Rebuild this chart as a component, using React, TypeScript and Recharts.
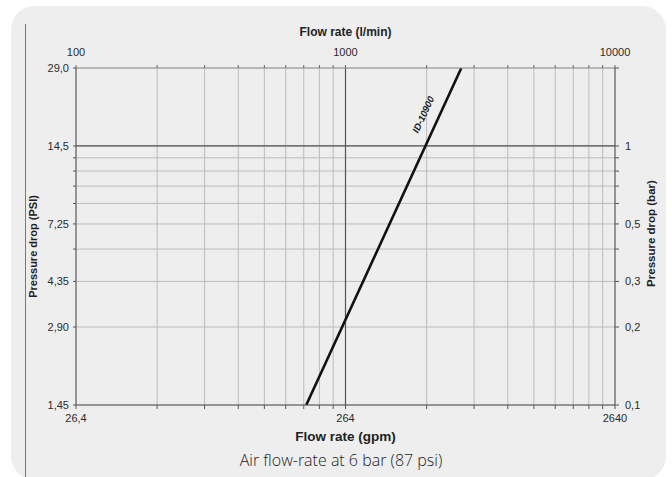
import React from "react";
import {
  CartesianGrid,
  Line,
  LineChart,
  ReferenceLine,
  XAxis,
  YAxis,
} from "recharts";

const FONT = '"Liberation Sans", Arial, sans-serif';

// l/min grid positions (log); top axis labels in l/min, bottom in gpm
const lpmTicks = [100, 200, 300, 400, 500, 600, 700, 800, 900, 1000, 2000, 3000, 4000, 5000, 6000, 7000, 8000, 9000, 10000];
const lpmLabels = ["100", "", "", "", "", "", "", "", "", "1000", "", "", "", "", "", "", "", "", "10000"];
const gpmLabels = ["26,4", "", "", "", "", "", "", "", "", "264", "", "", "", "", "", "", "", "", "2640"];

// left axis, PSI (log)
const psiTicks = [1.45, 2.9, 4.35, 5.8, 7.25, 8.7, 10.15, 11.6, 13.05, 14.5, 29];
const psiLabels = ["1,45", "2,90", "4,35", "", "7,25", "", "", "", "", "14,5", "29,0"];

// right axis, bar (log)
const barTicks = [0.1, 0.2, 0.3, 0.4, 0.5, 0.6, 0.7, 0.8, 0.9, 1, 2];
const barLabels = ["0,1", "0,2", "0,3", "", "0,5", "", "", "", "", "1", ""];

// ID-10900 curve
const seriesName = "ID-10900";
const flowLpm = [715, 2690];
const dropPsi = [1.45, 29.0];

const data = flowLpm.map((lpm, i) => ({ lpm, psi: dropPsi[i] }));

const TICK_FILL = "#2b2b2b";
const tickStyle = { fill: TICK_FILL, fontSize: 11, fontFamily: FONT };

const fmt = (ticks: number[], labels: string[]) => (v: number) => {
  const i = ticks.indexOf(v);
  return i >= 0 ? labels[i] : "";
};

// x tick labels drawn by hand so the colour stays put
function xTick(labels: string[], dy: number) {
  return (props: any) => {
    const i = lpmTicks.indexOf(props.payload.value);
    const text = i >= 0 ? labels[i] : "";
    if (!text) return <g />;
    return (
      <text x={props.x} y={props.y + dy} textAnchor="middle" fill={TICK_FILL} fontSize={11} fontFamily={FONT}>
        {text}
      </text>
    );
  };
}

function title(text: string, dx: number, dy: number, angle = 0, size = 12) {
  return (props: any) => {
    const vb = props.viewBox || { x: 0, y: 0, width: 0, height: 0 };
    const x = vb.x + (angle === 0 ? vb.width / 2 : dx);
    const y = vb.y + (angle === 0 ? dy : vb.height / 2 + dy);
    return (
      <text
        x={x}
        y={y}
        textAnchor="middle"
        dominantBaseline="central"
        transform={angle ? `rotate(${angle}, ${x}, ${y})` : undefined}
        fontFamily={FONT}
        fontWeight="bold"
        fontSize={size}
        fill="#222"
      >
        {text}
      </text>
    );
  };
}

function seriesLabel(props: any) {
  const { x, y, index } = props;
  if (index !== data.length - 1) return null;
  const cx = x - 35;
  const cy = y + 48;
  return (
    <text
      x={cx}
      y={cy}
      textAnchor="middle"
      transform={`rotate(-65, ${cx}, ${cy})`}
      fontFamily={FONT}
      fontWeight="bold"
      fontStyle="italic"
      fontSize={9.5}
      fill="#222"
    >
      {seriesName}
    </text>
  );
}

export default function App() {
  return (
    <div style={{ position: "absolute", left: 0, top: 0, width: 672, height: 477, background: "#fff", overflow: "hidden" }}>
      <div
        style={{
          position: "absolute",
          left: 11,
          top: 6,
          width: 655,
          height: 474,
          borderRadius: 24,
          background: "#eeeeef",
        }}
      />
      <div style={{ position: "absolute", left: 25, top: 24, width: 1, height: 460, background: "#777" }} />
      <div style={{ position: "absolute", left: 0, top: 0 }}>
        <LineChart width={672} height={477} data={data} margin={{ top: 28, right: 12, bottom: 32, left: 20 }}>
          <CartesianGrid xAxisId="lpm" yAxisId="bar" stroke="#bcbcbc" strokeWidth={1} />
          <XAxis
            xAxisId="lpm"
            orientation="top"
            dataKey="lpm"
            type="number"
            scale="log"
            domain={[100, 10000]}
            allowDataOverflow
            ticks={lpmTicks}
            interval={0}
            tick={xTick(lpmLabels, -1)}
            tickSize={3}
            tickMargin={8}
            stroke="#666"
            axisLine={{ stroke: "#999" }}
            height={40}
            label={title("Flow rate (l/min)", 0, 4, 0, 12)}
          />
          <XAxis
            xAxisId="lpmBottom"
            orientation="bottom"
            dataKey="lpm"
            type="number"
            scale="log"
            domain={[100, 10000]}
            allowDataOverflow
            ticks={lpmTicks}
            interval={0}
            tick={xTick(gpmLabels, 9)}
            tickSize={4}
            tickMargin={4}
            stroke="#555"
            height={40}
            label={title("Flow rate (gpm)", 0, 31, 0, 13.5)}
          />
          <YAxis
            yAxisId="psi"
            orientation="left"
            type="number"
            scale="log"
            domain={[1.45, 29]}
            allowDataOverflow
            ticks={psiTicks}
            interval={0}
            tickFormatter={fmt(psiTicks, psiLabels)}
            tick={tickStyle}
            tickSize={3}
            tickMargin={4}
            stroke="#555"
            width={56}
            label={title("Pressure drop (PSI)", 13, 10, -90, 11)}
          />
          <YAxis
            yAxisId="bar"
            orientation="right"
            type="number"
            scale="log"
            domain={[0.1, 2]}
            allowDataOverflow
            ticks={barTicks}
            interval={0}
            tickFormatter={fmt(barTicks, barLabels)}
            tick={tickStyle}
            tickSize={4}
            tickMargin={6}
            stroke="#555"
            width={45}
            label={title("Pressure drop (bar)", 36, -3, -90, 11.5)}
          />
          <ReferenceLine xAxisId="lpm" yAxisId="psi" x={1000} stroke="#555" strokeWidth={1.2} />
          <ReferenceLine xAxisId="lpm" yAxisId="psi" y={14.5} stroke="#555" strokeWidth={1.2} />
          <Line
            xAxisId="lpm"
            yAxisId="psi"
            dataKey="psi"
            name={seriesName}
            stroke="#111"
            strokeWidth={2.6}
            dot={false}
            label={seriesLabel}
            isAnimationActive={false}
          />
        </LineChart>
      </div>
      <div
        style={{
          position: "absolute",
          left: 0,
          top: 449,
          width: 682,
          textAlign: "center",
          fontFamily: '"Open Sans", sans-serif',
          fontWeight: 300,
          fontSize: 16,
          color: "#222",
          lineHeight: "22px",
        }}
      >
        Air flow-rate at 6 bar (87 psi)
      </div>
    </div>
  );
}
